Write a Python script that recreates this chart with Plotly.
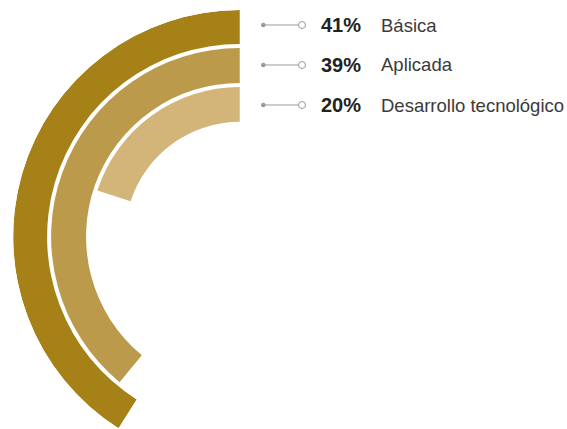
import plotly.graph_objects as go

# data
categories = ["Básica", "Aplicada", "Desarrollo tecnológico"]
percent = [41, 39, 20]
pct_labels = ["41%", "39%", "20%"]
colors = ["#A58118", "#BC9A4B", "#D3B579"]

# ring layout (radial units), outer -> inner
ring_base = [193, 154, 115]
ring_width = [34, 35, 35]
R_MAX = 227

W, H = 567, 429

fig = go.Figure()

for i, cat in enumerate(categories):
    span = percent[i] * 3.6
    fig.add_trace(go.Barpolar(
        r=[ring_width[i]],
        base=[ring_base[i]],
        theta=[span / 2],
        width=[span],
        marker=dict(color=colors[i], line=dict(width=0)),
        name=cat,
        hoverinfo="skip",
    ))

# polar placement: center ~(240, 237) px, radius 227 px
cx, cy = 240, 237
x0 = (cx - R_MAX) / W
x1 = cx / W
y_top = 1 - (cy - R_MAX) / H
y_bot = max(0, 1 - (cy + R_MAX * 0.848) / H)

fig.update_layout(
    width=W, height=H,
    margin=dict(l=0, r=0, t=0, b=0),
    paper_bgcolor="white",
    plot_bgcolor="white",
    showlegend=False,
    polar=dict(
        domain=dict(x=[x0, x1], y=[y_bot, y_top]),
        sector=[90, 238],
        bgcolor="rgba(0,0,0,0)",
        radialaxis=dict(range=[0, R_MAX], visible=False, showgrid=False),
        angularaxis=dict(direction="counterclockwise", rotation=90,
                         visible=False, showgrid=False),
        bargap=0,
    ),
)

# legend rows (drawn as annotations + shapes)
row_y = [25, 65, 105]
shapes = []
annotations = []
for i, cat in enumerate(categories):
    yp = 1 - row_y[i] / H
    shapes.append(dict(type="line", xref="paper", yref="paper",
                       x0=263 / W, x1=298.5 / W, y0=yp, y1=yp,
                       line=dict(color="#9a9a9a", width=1)))
    shapes.append(dict(type="circle", xref="paper", yref="paper",
                       x0=261 / W, x1=265.5 / W,
                       y0=yp - 2.25 / H, y1=yp + 2.25 / H,
                       fillcolor="#9a9a9a", line=dict(width=0)))
    shapes.append(dict(type="circle", xref="paper", yref="paper",
                       x0=298.5 / W, x1=305.5 / W,
                       y0=yp - 3.5 / H, y1=yp + 3.5 / H,
                       fillcolor="white", line=dict(color="#9a9a9a", width=1)))
    annotations.append(dict(xref="paper", yref="paper", x=319 / W, y=yp,
                            xanchor="left", yanchor="middle", showarrow=False,
                            text="<b>" + pct_labels[i] + "</b>",
                            font=dict(family="Liberation Sans", size=20, color="#222222")))
    annotations.append(dict(xref="paper", yref="paper", x=379 / W, y=yp,
                            xanchor="left", yanchor="middle", showarrow=False,
                            text=cat,
                            font=dict(family="Liberation Sans", size=18.5, color="#3a3a3a")))

fig.update_layout(shapes=shapes, annotations=annotations)

# drop the default page margin so the figure sits at the window origin
fig.write_html("out.html", config={"displayModeBar": False},
               post_script="document.body.style.margin='0';")
